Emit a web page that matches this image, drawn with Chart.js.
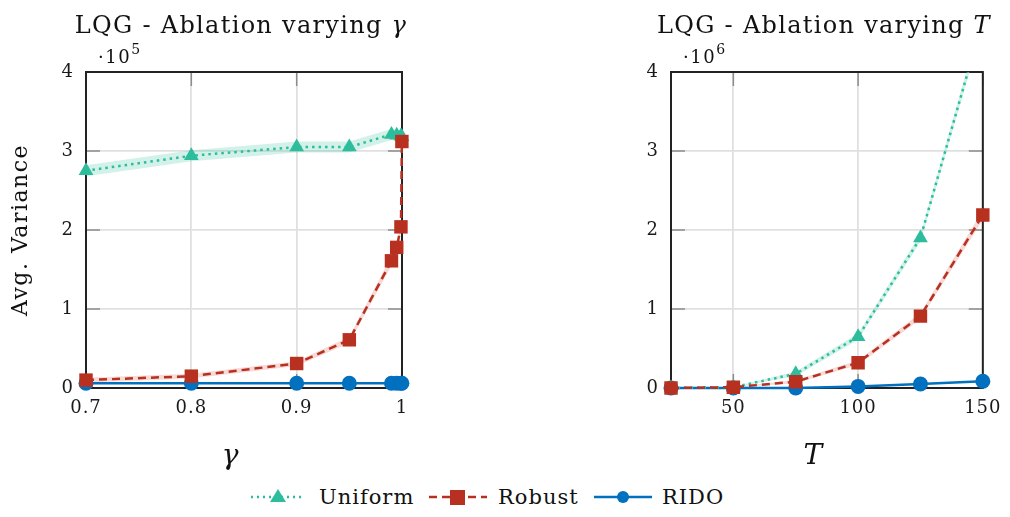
<!DOCTYPE html>
<html>
<head>
<meta charset="utf-8">
<script src="https://cdn.jsdelivr.net/npm/chart.js@4.4.1/dist/chart.umd.min.js"></script>
<style>
  body { margin: 0; background: #fff; width: 1010px; height: 517px; overflow: hidden; position: relative; }
  canvas { position: absolute; top: 0; }
  #legend > * { position: absolute; }
  #legend svg { top: 487px; }
  #legend span { top: 484px; font-family: 'DejaVu Serif', serif; font-size: 21px; letter-spacing: 1px; color: #111; line-height: 26px; }
</style>
</head>
<body>
<canvas id="gamma" width="505" height="470" style="left:0"></canvas>
<canvas id="horizon" width="505" height="470" style="left:505px"></canvas>
<div id="legend">
  <svg width="56" height="20" style="left:250px"><line x1="1" y1="10" x2="55" y2="10" stroke="#2dbd9c" stroke-width="2.5" stroke-dasharray="2 4"/><polygon points="28,2 36,15 20,15" fill="#2dbd9c"/></svg>
  <span style="left:319px">Uniform</span>
  <svg width="60" height="20" style="left:428px"><line x1="1" y1="10" x2="59" y2="10" stroke="#b8301f" stroke-width="2.5" stroke-dasharray="8 5"/><rect x="22" y="3" width="15" height="15" fill="#b8301f"/></svg>
  <span style="left:498px">Robust</span>
  <svg width="60" height="20" style="left:593px"><line x1="1" y1="10" x2="59" y2="10" stroke="#0070bf" stroke-width="2.5"/><circle cx="30" cy="10" r="6" fill="#0070bf"/></svg>
  <span style="left:662px">RIDO</span>
</div>
<script>
// discount factor sweep (values in units of 1e5)
const gammaX     = [0.7, 0.8, 0.9, 0.95, 0.99, 0.995, 0.999, 0.9999];
const uniformG   = [2.75, 2.94, 3.05, 3.05, 3.21, 3.20, 3.19, 3.18];
const uniformGLo = [2.68, 2.87, 2.98, 2.98, 3.14, 3.13, 3.12, 3.11];
const uniformGHi = [2.82, 3.01, 3.12, 3.12, 3.28, 3.27, 3.26, 3.25];
const robustG    = [0.10, 0.15, 0.31, 0.61, 1.61, 1.78, 2.04, 3.12];
const robustGLo  = [0.07, 0.12, 0.28, 0.57, 1.55, 1.72, 1.98, 3.06];
const robustGHi  = [0.13, 0.18, 0.34, 0.65, 1.67, 1.84, 2.10, 3.18];
const ridoG      = [0.06, 0.06, 0.06, 0.06, 0.06, 0.06, 0.06, 0.06];
const gammaTicks = [0.7, 0.8, 0.9, 1];

// horizon sweep (values in units of 1e6)
const tX         = [25, 50, 75, 100, 125, 150];
const uniformT   = [0.0, 0.01, 0.18, 0.65, 1.90, 4.66];
const uniformTLo = [0.0, 0.005, 0.15, 0.61, 1.85, 4.58];
const uniformTHi = [0.0, 0.015, 0.21, 0.69, 1.95, 4.74];
const robustT    = [0.0, 0.01, 0.08, 0.32, 0.91, 2.19];
const robustTLo  = [0.0, 0.005, 0.06, 0.29, 0.87, 2.13];
const robustTHi  = [0.0, 0.015, 0.10, 0.35, 0.95, 2.25];
const ridoT      = [0.0, 0.0, 0.0, 0.02, 0.05, 0.085];
const tTicks     = [50, 100, 150];

const yTicks = [0, 1, 2, 3, 4];

const TEAL = '#2dbd9c', RED = '#b8301f', BLUE = '#0070bf';
const SERIF = "'DejaVu Serif', serif";
const pts = (xs, ys) => xs.map((x, i) => ({ x, y: ys[i] }));
const CLIP = { left: 20, right: 20, bottom: 20, top: 0 };

function datasets(xs, u, uLo, uHi, r, rLo, rHi, d) {
  const band = (data, color, fill, order) => ({
    data: pts(xs, data), borderWidth: 0, pointRadius: 0, backgroundColor: color,
    fill, order, clip: CLIP
  });
  return [
    { label: 'Robust', data: pts(xs, r), borderColor: RED, backgroundColor: RED, borderWidth: 2.5,
      borderDash: [8, 5], pointStyle: 'rect', pointRadius: 9.5, pointBorderWidth: 0, order: 0, clip: CLIP },
    { label: 'Uniform', data: pts(xs, u), borderColor: TEAL, backgroundColor: TEAL, borderWidth: 2.5,
      borderDash: [2.5, 4], pointStyle: 'triangle', pointRadius: 8.5, pointBorderWidth: 0, order: 1, clip: CLIP },
    { label: 'RIDO', data: pts(xs, d), borderColor: BLUE, backgroundColor: BLUE, borderWidth: 2.5,
      pointStyle: 'circle', pointRadius: 7.5, pointBorderWidth: 0, order: 2, clip: CLIP },
    band(uHi, 'rgba(45,189,156,0.22)', '+1', 3),
    band(uLo, 'rgba(0,0,0,0)', false, 4),
    band(rHi, 'rgba(225,120,110,0.28)', '+1', 5),
    band(rLo, 'rgba(0,0,0,0)', false, 6)
  ];
}

// frame, inner tick marks, titles and the exponent label
const decor = {
  id: 'decor',
  beforeDraw(chart) {
    // widen the tick labels a little
    chart.ctx.letterSpacing = '1px';
  },
  beforeDatasetsDraw(chart, args, o) {
    const { ctx, chartArea: a, scales: { x, y } } = chart;
    ctx.save();
    ctx.strokeStyle = '#8c8c8c';
    ctx.lineWidth = 1.5;
    ctx.beginPath();
    x.ticks.forEach(t => {
      const px = x.getPixelForValue(t.value);
      ctx.moveTo(px, a.bottom); ctx.lineTo(px, a.bottom - 14);
      ctx.moveTo(px, a.top); ctx.lineTo(px, a.top + 14);
    });
    y.ticks.forEach(t => {
      const py = y.getPixelForValue(t.value);
      ctx.moveTo(a.left, py); ctx.lineTo(a.left + 14, py);
      ctx.moveTo(a.right, py); ctx.lineTo(a.right - 14, py);
    });
    ctx.stroke();
    ctx.strokeStyle = '#222';
    ctx.lineWidth = 2;
    ctx.strokeRect(a.left, a.top, a.right - a.left, a.bottom - a.top);
    ctx.restore();
  },
  afterDraw(chart, args, o) {
    const { ctx, chartArea: a } = chart;
    ctx.save();
    ctx.fillStyle = '#111';
    ctx.textBaseline = 'alphabetic';
    ctx.textAlign = 'left';
    // title: upright text followed by an italic symbol
    ctx.letterSpacing = '1.3px';
    ctx.font = `24px ${SERIF}`;
    const w1 = ctx.measureText(o.title).width;
    ctx.font = `italic 24px ${SERIF}`;
    const w2 = ctx.measureText(o.symbol).width;
    const tx = (a.left + a.right) / 2 - (w1 + w2) / 2 - 3;
    ctx.font = `24px ${SERIF}`;
    ctx.fillText(o.title, tx, 33);
    ctx.font = `italic 24px ${SERIF}`;
    ctx.fillText(o.symbol, tx + w1, 33);
    // exponent above the y axis
    ctx.letterSpacing = '1.5px';
    ctx.font = `18px ${SERIF}`;
    ctx.fillText('\u00b710', a.left + 12, 63);
    const we = ctx.measureText('\u00b710').width;
    ctx.font = `14px ${SERIF}`;
    ctx.fillText(o.exp, a.left + 12 + we, 54);
    // x axis title
    ctx.letterSpacing = '0px';
    ctx.font = `italic 28px ${SERIF}`;
    ctx.textAlign = 'center';
    ctx.fillText(o.symbol, (a.left + a.right) / 2 - 14, 464);
    // y axis title
    if (o.yTitle) {
      ctx.letterSpacing = '1.5px';
      ctx.translate(27, (a.top + a.bottom) / 2);
      ctx.rotate(-Math.PI / 2);
      ctx.font = `22px ${SERIF}`;
      ctx.fillText(o.yTitle, 0, 0);
    }
    ctx.restore();
  }
};

function makeChart(id, xs, xTicks, xMin, xMax, sets, yWidth, padRight, deco) {
  return new Chart(document.getElementById(id), {
    type: 'line',
    data: { datasets: sets },
    plugins: [decor],
    options: {
      responsive: false,
      animation: false,
      layout: { padding: { top: 72, right: padRight, bottom: 0, left: 0 } },
      plugins: { legend: { display: false }, tooltip: { enabled: false }, decor: deco },
      scales: {
        x: {
          type: 'linear', min: xMin, max: xMax,
          afterBuildTicks: s => { s.ticks = xTicks.map(v => ({ value: v })); },
          afterFit: s => { s.height = 82; },
          grid: { color: '#e0e0e0', lineWidth: 1.8, drawTicks: false },
          border: { display: false },
          ticks: { padding: 10, color: '#1a1a1a', font: { family: SERIF, size: 18 },
                   callback: v => String(+v.toFixed(2)) }
        },
        y: {
          min: 0, max: 4,
          afterBuildTicks: s => { s.ticks = yTicks.map(v => ({ value: v })); },
          afterFit: s => { s.width = yWidth; },
          grid: { color: '#e0e0e0', lineWidth: 1.8, drawTicks: false },
          border: { display: false },
          ticks: { padding: 12, color: '#1a1a1a', font: { family: SERIF, size: 18 } }
        }
      }
    }
  });
}

makeChart('gamma', gammaX, gammaTicks, 0.7, 1,
  datasets(gammaX, uniformG, uniformGLo, uniformGHi, robustG, robustGLo, robustGHi, ridoG),
  86, 103, { title: 'LQG - Ablation varying ', symbol: '\u03b3', exp: '5', yTitle: 'Avg. Variance' });

makeChart('horizon', tX, tTicks, 25, 150,
  datasets(tX, uniformT, uniformTLo, uniformTHi, robustT, robustTLo, robustTHi, ridoT),
  166, 23, { title: 'LQG - Ablation varying ', symbol: 'T', exp: '6' });
</script>
</body>
</html>
